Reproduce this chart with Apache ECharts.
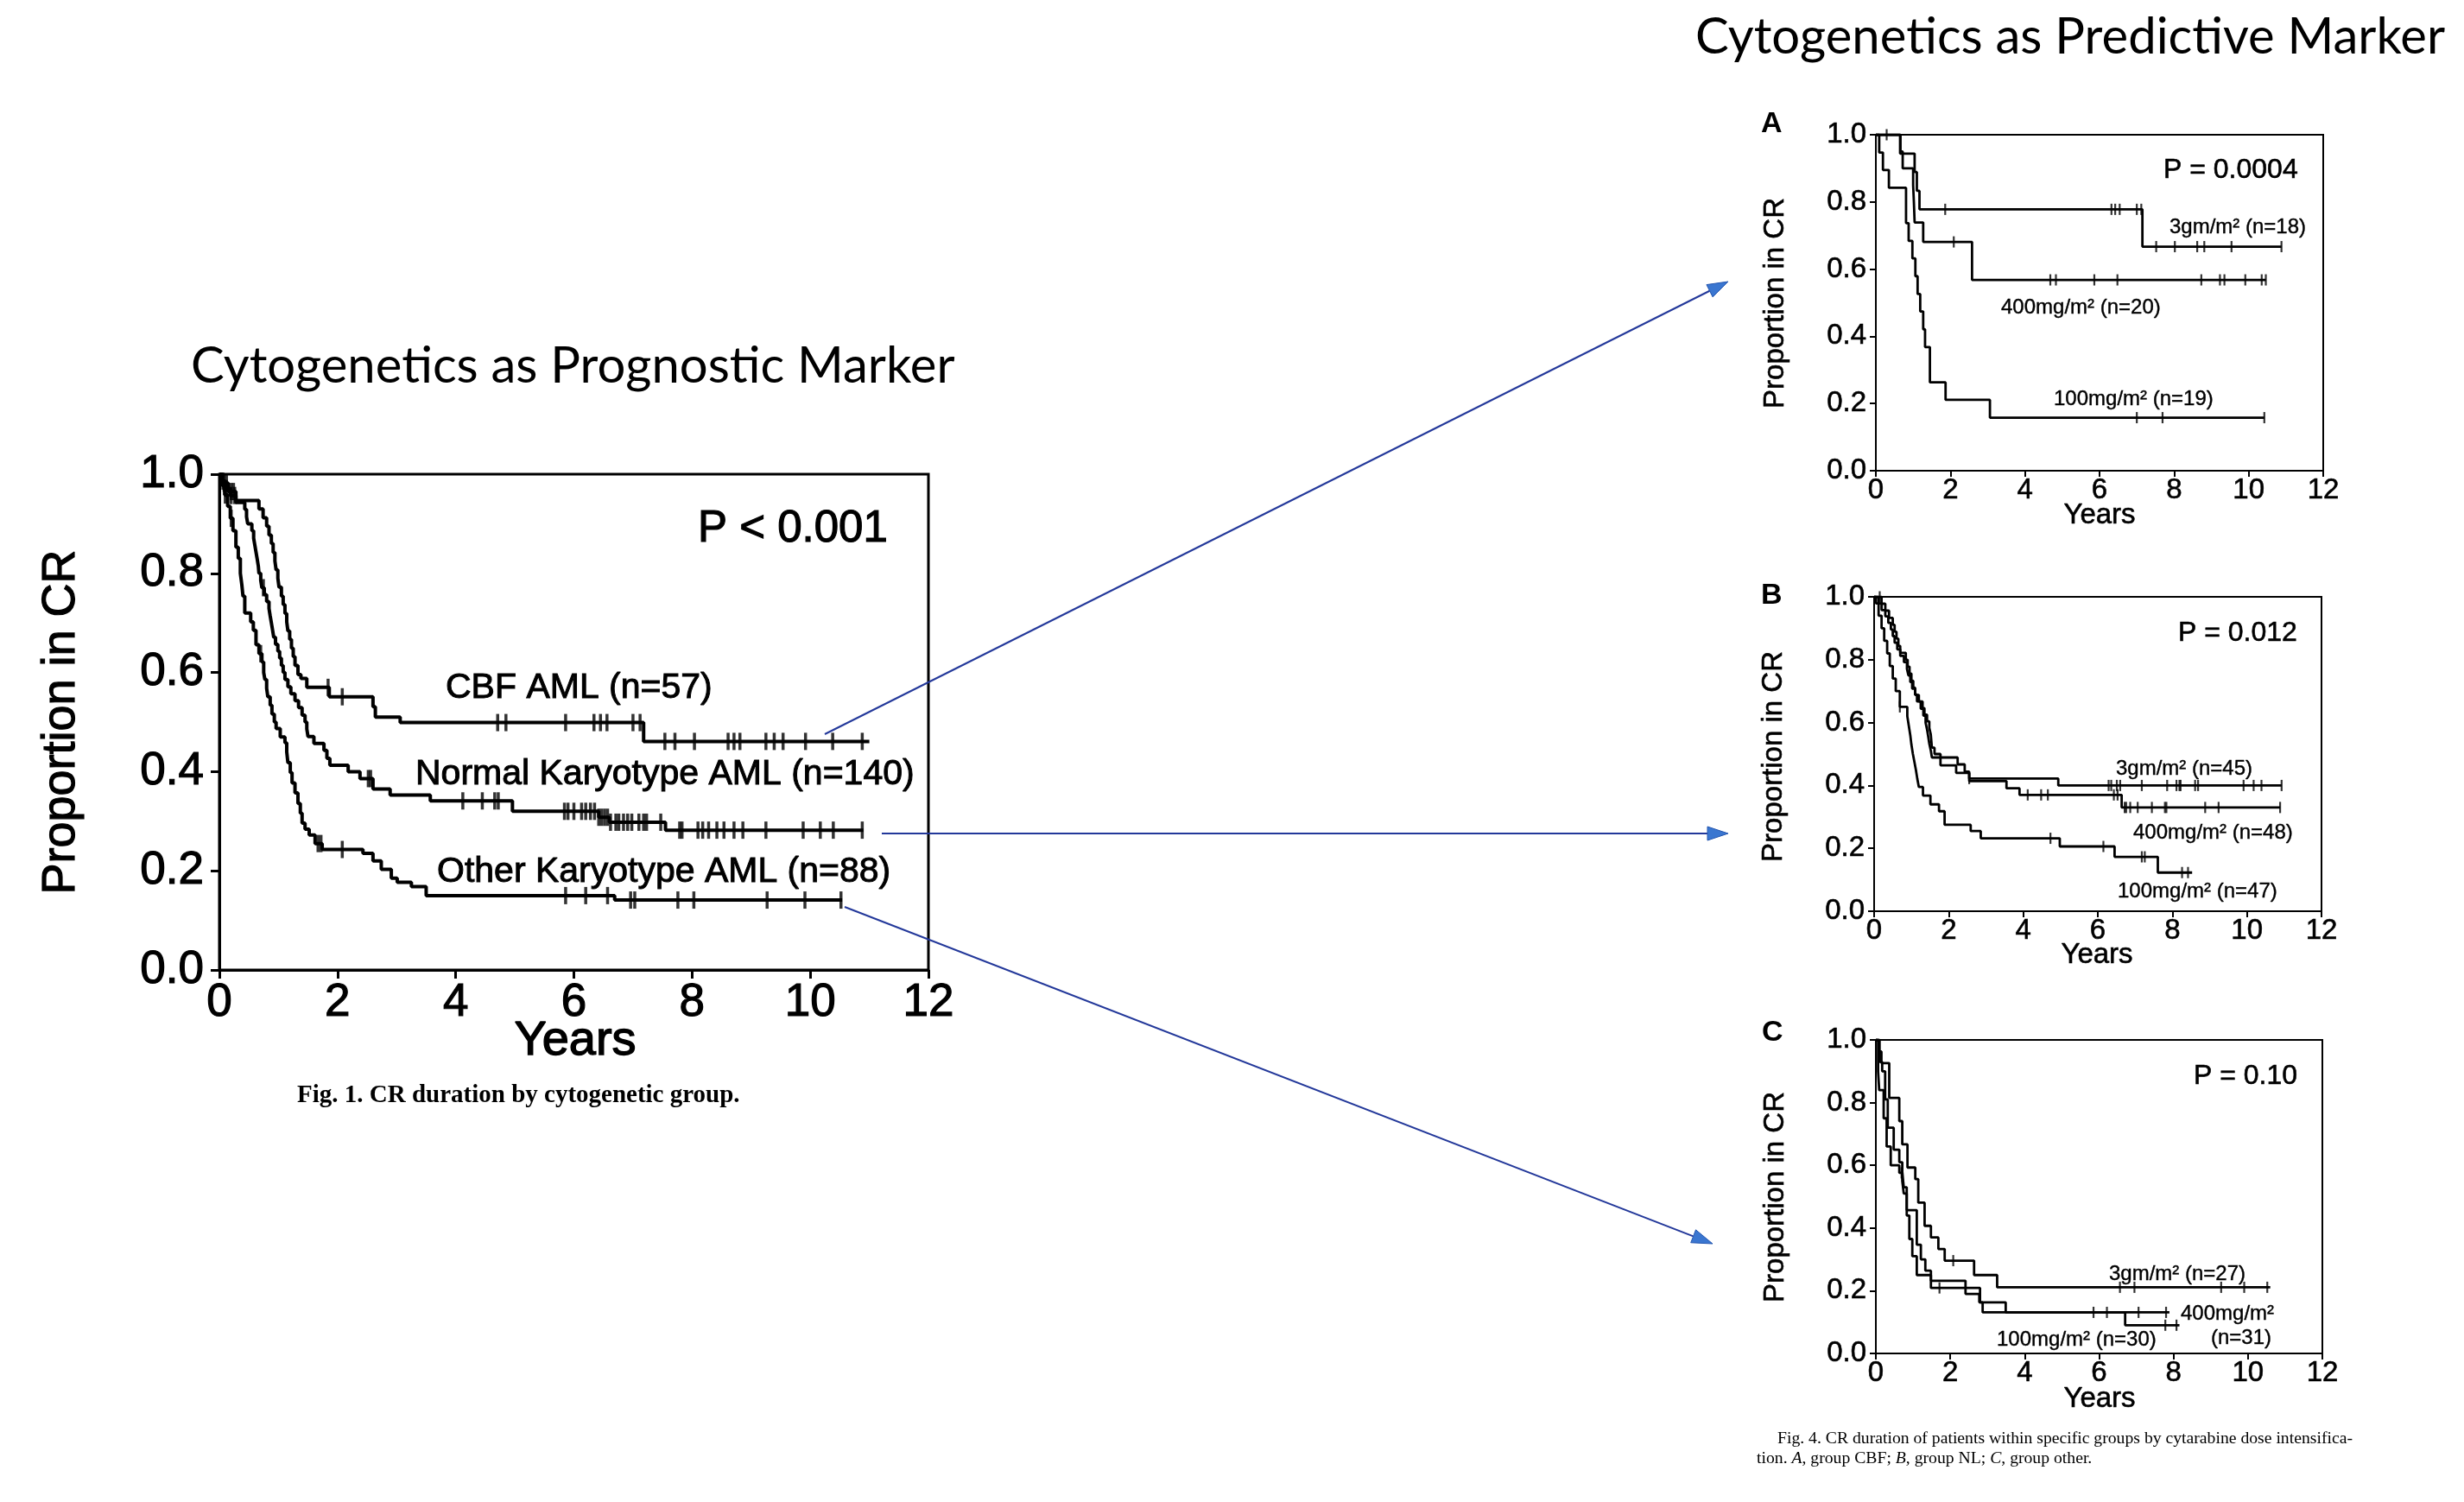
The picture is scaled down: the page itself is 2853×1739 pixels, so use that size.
<!DOCTYPE html>
<html lang="en">
<head>
<meta charset="UTF-8">
<title>Cytogenetics as Prognostic and Predictive Marker</title>
<script src="https://cdn.jsdelivr.net/npm/echarts@6/dist/echarts.min.js"></script>
<style>
  html, body { margin: 0; background: #fff; }
  #chart { width: 2853px; height: 1739px; }
</style>
</head>
<body>
<div id="chart"></div>
<script>
// ---- Fig. 1 : CR duration by cytogenetic group (years, proportion in CR) ----
const cbfSteps = [[0,1],[0.05,0.982],[0.15,0.965],[0.28,0.947],[0.67,0.93],[0.74,0.912],[0.80,0.895],[0.84,0.877],[0.88,0.86],[0.91,0.842],[0.94,0.825],[0.96,0.807],[0.99,0.79],[1.01,0.772],[1.05,0.754],[1.08,0.737],[1.11,0.719],[1.14,0.702],[1.16,0.684],[1.19,0.667],[1.22,0.649],[1.25,0.632],[1.28,0.614],[1.33,0.596],[1.38,0.588],[1.48,0.570],[1.86,0.551],[2.60,0.531],[2.64,0.510],[3.06,0.499],[7.18,0.461],[11.0,0.461]];
const cbfCensor = [0.08,0.12,0.2,0.24,1.84,2.08,4.71,4.85,5.86,6.34,6.45,6.56,7.0,7.12,7.54,7.71,8.04,8.61,8.71,8.81,9.25,9.39,9.54,9.92,10.38,10.88];

const normalSteps = [[0,1],[0.04,0.986],[0.1,0.971],[0.18,0.957],[0.28,0.943],[0.43,0.929],[0.46,0.914],[0.48,0.90],[0.55,0.886],[0.58,0.871],[0.60,0.857],[0.62,0.843],[0.64,0.829],[0.66,0.814],[0.67,0.80],[0.70,0.786],[0.72,0.771],[0.76,0.757],[0.80,0.743],[0.84,0.729],[0.86,0.714],[0.88,0.70],[0.90,0.686],[0.92,0.671],[0.95,0.657],[0.99,0.643],[1.02,0.629],[1.05,0.614],[1.08,0.60],[1.11,0.586],[1.16,0.571],[1.21,0.557],[1.28,0.543],[1.34,0.529],[1.40,0.514],[1.45,0.50],[1.48,0.486],[1.50,0.471],[1.60,0.457],[1.77,0.443],[1.82,0.427],[1.87,0.413],[2.18,0.40],[2.38,0.386],[2.60,0.365],[2.89,0.353],[3.57,0.341],[4.96,0.32],[6.42,0.308],[6.6,0.298],[7.55,0.282],[10.9,0.282]];
const normalCensor = [0.06,0.12,0.2,0.26,0.745,2.52,2.56,4.12,4.45,4.66,4.72,5.84,5.9,6.0,6.13,6.2,6.28,6.35,6.42,6.47,6.52,6.57,6.62,6.71,6.76,6.84,6.91,6.98,7.10,7.18,7.23,7.47,7.79,7.83,8.10,8.18,8.28,8.42,8.54,8.71,8.86,9.25,9.88,10.17,10.39,10.88];

const otherSteps = [[0,1],[0.05,0.977],[0.09,0.958],[0.14,0.935],[0.185,0.911],[0.23,0.886],[0.28,0.853],[0.32,0.83],[0.355,0.80],[0.38,0.777],[0.40,0.754],[0.43,0.72],[0.53,0.702],[0.575,0.685],[0.62,0.656],[0.67,0.638],[0.72,0.621],[0.75,0.60],[0.77,0.586],[0.80,0.568],[0.82,0.551],[0.86,0.534],[0.89,0.516],[0.93,0.50],[0.96,0.487],[1.03,0.47],[1.11,0.458],[1.14,0.44],[1.16,0.418],[1.2,0.398],[1.23,0.377],[1.28,0.357],[1.33,0.336],[1.37,0.316],[1.40,0.296],[1.45,0.284],[1.52,0.272],[1.62,0.255],[1.74,0.243],[2.43,0.235],[2.60,0.22],[2.74,0.203],[2.91,0.185],[3.01,0.177],[3.25,0.168],[3.50,0.150],[6.69,0.141],[10.54,0.141]];
const otherCensor = [0.1,0.2,0.70,1.67,1.72,2.08,5.86,6.20,6.57,6.96,7.03,7.76,8.03,9.27,9.91,10.52];

// ---- Fig. 4 A : group CBF by cytarabine dose ----
const a3gSteps = [[0,1],[0.65,0.944],[1.04,0.889],[1.10,0.833],[1.17,0.778],[7.15,0.667],[10.88,0.667]];
const a3gCensor = [0.29,1.86,6.32,6.42,6.54,7.0,7.12,7.52,8.02,8.62,8.81,9.54,10.88];
const a400Steps = [[0,1],[0.66,0.95],[0.72,0.90],[1.0,0.85],[1.02,0.80],[1.04,0.739],[1.27,0.681],[2.58,0.568],[10.46,0.568]];
const a400Censor = [2.09,4.68,4.83,5.86,6.48,8.73,9.23,9.35,9.91,10.35,10.46];
const a100Steps = [[0,1],[0.09,0.947],[0.19,0.895],[0.35,0.842],[0.81,0.737],[0.88,0.684],[0.98,0.632],[1.06,0.579],[1.12,0.526],[1.19,0.474],[1.27,0.421],[1.32,0.368],[1.45,0.263],[1.87,0.211],[3.06,0.158],[10.42,0.158]];
const a100Censor = [7.0,7.69,10.42];

// ---- Fig. 4 B : group NL ----
const b3gSteps = [[0,1],[0.2,0.978],[0.3,0.956],[0.4,0.933],[0.5,0.911],[0.55,0.889],[0.6,0.867],[0.65,0.844],[0.7,0.822],[0.85,0.80],[0.9,0.778],[0.95,0.756],[1.0,0.733],[1.05,0.711],[1.1,0.689],[1.15,0.667],[1.25,0.644],[1.32,0.622],[1.38,0.60],[1.42,0.578],[1.45,0.556],[1.48,0.533],[1.52,0.511],[1.55,0.489],[2.24,0.467],[2.43,0.444],[2.55,0.422],[4.94,0.40],[10.93,0.40]];
const b3gCensor = [0.15,2.55,6.29,6.36,6.51,6.6,7.18,7.86,8.11,8.19,8.22,8.61,8.69,9.91,10.18,10.39,10.93];
const b400Steps = [[0,1],[0.12,0.979],[0.2,0.958],[0.3,0.938],[0.38,0.917],[0.45,0.896],[0.5,0.875],[0.55,0.854],[0.62,0.833],[0.7,0.812],[0.8,0.792],[0.88,0.771],[0.92,0.75],[0.97,0.729],[1.02,0.708],[1.1,0.688],[1.2,0.667],[1.3,0.646],[1.35,0.625],[1.42,0.604],[1.48,0.583],[1.52,0.562],[1.55,0.52],[1.62,0.50],[1.78,0.464],[2.2,0.44],[2.55,0.414],[3.55,0.391],[3.9,0.37],[6.64,0.33],[10.89,0.33]];
const b400Censor = [4.12,4.48,4.66,6.43,6.53,6.72,6.76,6.87,7.07,7.45,7.80,7.84,8.88,9.24,10.89];
const b100Steps = [[0,1],[0.05,0.979],[0.12,0.94],[0.2,0.90],[0.27,0.86],[0.35,0.82],[0.42,0.78],[0.5,0.74],[0.58,0.70],[0.69,0.65],[0.89,0.62],[0.93,0.59],[0.97,0.56],[1.0,0.53],[1.04,0.50],[1.08,0.475],[1.12,0.45],[1.16,0.42],[1.20,0.395],[1.31,0.368],[1.51,0.34],[1.74,0.318],[1.89,0.275],[2.59,0.255],[2.86,0.232],[4.98,0.206],[6.45,0.173],[7.61,0.123],[8.53,0.123]];
const b100Censor = [0.69,4.73,6.15,7.18,7.26,8.26,8.42];

// ---- Fig. 4 C : group other ----
const c3gSteps = [[0,1],[0.08,0.963],[0.15,0.926],[0.36,0.815],[0.63,0.741],[0.71,0.667],[0.85,0.593],[1.06,0.556],[1.14,0.481],[1.31,0.407],[1.48,0.37],[1.68,0.333],[1.85,0.296],[2.64,0.25],[3.26,0.211],[10.6,0.211]];
const c3gCensor = [2.08,6.56,6.95,9.28,9.9,10.52];
const c400Steps = [[0,1],[0.06,0.90],[0.09,0.84],[0.21,0.75],[0.29,0.66],[0.40,0.60],[0.63,0.576],[0.71,0.55],[0.75,0.51],[0.83,0.457],[1.10,0.347],[1.21,0.30],[1.33,0.264],[1.48,0.232],[2.41,0.19],[2.78,0.163],[2.87,0.131],[7.89,0.131]];
const c400Censor = [0.69,5.85,6.21,7.06,7.8];
const c100Steps = [[0,1],[0.1,0.93],[0.17,0.90],[0.25,0.81],[0.32,0.72],[0.48,0.65],[0.63,0.61],[0.71,0.58],[0.75,0.53],[0.83,0.44],[0.90,0.365],[0.98,0.31],[1.10,0.25],[1.48,0.209],[2.80,0.163],[3.49,0.131],[6.70,0.09],[8.16,0.09]];
const c100Censor = [1.71,7.78,8.08];

const yearMax = 12, yearStep = 2;
const propMax = 1, propStep = 0.2;

// ------------------------------------------------------------------
const FONT = '"Liberation Sans", Arial, Helvetica, sans-serif';
const SERIF = '"Liberation Serif", "Times New Roman", serif';
const TITLE_FONT = 'Lato, "Open Sans", sans-serif';

let chart = echarts.init(document.getElementById('chart'));

// proportion in CR at time t (Kaplan-Meier step function)
function survAt(steps, t) {
    let s = steps[0][1];
    for (const [tt, ss] of steps) {
        if (tt <= t) s = ss;
    }
    return s;
}

// 0 = Fig.1, 1..3 = panels A, B, C
const grids = [
    { left: 254, top: 549, width: 821, height: 574 },
    { left: 2172, top: 156, width: 518, height: 389 },
    { left: 2170, top: 691, width: 518, height: 364 },
    { left: 2172, top: 1204, width: 517, height: 363 }
];
const panels = [
    [[cbfSteps, cbfCensor], [normalSteps, normalCensor], [otherSteps, otherCensor]],
    [[a3gSteps, a3gCensor], [a400Steps, a400Censor], [a100Steps, a100Censor]],
    [[b3gSteps, b3gCensor], [b400Steps, b400Censor], [b100Steps, b100Censor]],
    [[c3gSteps, c3gCensor], [c400Steps, c400Censor], [c100Steps, c100Censor]]
];

const xAxes = [], yAxes = [], series = [];
grids.forEach((g, i) => {
    const big = i === 0;
    const lw = big ? 3 : 2;
    const label = {
        color: '#000', fontFamily: FONT, fontSize: big ? 53 : 33,
        textBorderColor: '#000', textBorderWidth: big ? 1.2 : 0.6
    };
    xAxes.push({
        type: 'value', gridIndex: i, min: 0, max: yearMax, interval: yearStep,
        axisLine: { lineStyle: { color: '#000', width: lw } },
        axisTick: { length: big ? 10 : 7, lineStyle: { color: '#000', width: lw } },
        axisLabel: Object.assign({ margin: big ? 12 : 6 }, label),
        splitLine: { show: false }
    });
    yAxes.push({
        type: 'value', gridIndex: i, min: 0, max: propMax, interval: propStep,
        axisLine: { lineStyle: { color: '#000', width: lw } },
        axisTick: { length: big ? 10 : 7, lineStyle: { color: '#000', width: lw } },
        axisLabel: Object.assign({ margin: big ? 18 : 11, formatter: v => v.toFixed(1) }, label),
        splitLine: { show: false }
    });
    panels[i].forEach(([steps, censor]) => {
        series.push({
            type: 'line', xAxisIndex: i, yAxisIndex: i, data: steps, step: 'end',
            symbol: 'none', silent: true,
            lineStyle: { color: '#000', width: big ? 4 : 2.8 }
        });
        series.push({
            type: 'scatter', xAxisIndex: i, yAxisIndex: i, silent: true,
            data: censor.map(t => [t, survAt(steps, t)]),
            symbol: 'rect', symbolSize: big ? [3.5, 20] : [2.2, 13],
            itemStyle: { color: '#000' }
        });
    });
});

function txt(text, x, y, size, extra) {
    return {
        type: 'text', x: x, y: y, z: 10, silent: true,
        style: Object.assign({ text: text, fill: '#000', fontSize: size, fontFamily: FONT,
                               align: 'left', verticalAlign: 'middle' }, extra || {})
    };
}
// slightly heavier strokes, like the scanned figure lettering
function btxt(text, x, y, size, w, extra) {
    return txt(text, x, y, size, Object.assign({ stroke: '#000', lineWidth: w }, extra || {}));
}
function vtxt(text, x, y, size, w) {
    let t = btxt(text, x, y, size, w, { align: 'center' });
    t.rotation = Math.PI / 2;
    return t;
}

// blue pointer arrows from Fig. 1 curves to the panels
function arrow(x1, y1, x2, y2) {
    const ang = Math.atan2(y2 - y1, x2 - x1);
    const len = 24, half = 8;
    const bx = x2 - len * Math.cos(ang), by = y2 - len * Math.sin(ang);
    const nx = -Math.sin(ang) * half, ny = Math.cos(ang) * half;
    return [
        { type: 'line', silent: true, shape: { x1: x1, y1: y1, x2: bx, y2: by },
          style: { stroke: '#23389a', lineWidth: 2 } },
        { type: 'polygon', silent: true,
          shape: { points: [[x2, y2], [bx + nx, by + ny], [bx - nx, by - ny]] },
          style: { fill: '#3a76d0', stroke: '#2456b0', lineWidth: 1 } }
    ];
}

const m2 = 'm\u00B2';
const graphics = [
    txt('Cytogenetics as Prognostic Marker', 221, 424, 58, { fontFamily: TITLE_FONT }),
    txt('Cytogenetics as Predictive Marker', 1963, 43, 58, { fontFamily: TITLE_FONT }),

    vtxt('Proportion in CR', 71, 836, 54, 1.2),
    btxt('Years', 666, 1206, 56, 1.4, { align: 'center' }),
    btxt('P < 0.001', 808, 613, 51, 1.2),
    btxt('CBF AML (n=57)', 516, 797, 41, 1),
    btxt('Normal Karyotype AML (n=140)', 481, 897, 41, 1),
    btxt('Other Karyotype AML (n=88)', 506, 1010, 41, 1),
    txt('Fig. 1. CR duration by cytogenetic group.', 344, 1269, 29, { fontFamily: SERIF, fontWeight: 'bold' }),

    txt('A', 2039, 144, 34, { fontWeight: 'bold' }),
    vtxt('Proportion in CR', 2056, 351, 33, 0.6),
    btxt('Years', 2431, 597, 33, 0.6, { align: 'center' }),
    btxt('P = 0.0004', 2505, 197, 32, 0.6),
    btxt('3gm/' + m2 + ' (n=18)', 2512, 263, 24, 0.4),
    btxt('400mg/' + m2 + ' (n=20)', 2317, 356, 24, 0.4),
    btxt('100mg/' + m2 + ' (n=19)', 2378, 462, 24, 0.4),

    txt('B', 2039, 690, 34, { fontWeight: 'bold' }),
    vtxt('Proportion in CR', 2054, 876, 33, 0.6),
    btxt('Years', 2428, 1106, 33, 0.6, { align: 'center' }),
    btxt('P = 0.012', 2522, 733, 32, 0.6),
    btxt('3gm/' + m2 + ' (n=45)', 2450, 890, 24, 0.4),
    btxt('400mg/' + m2 + ' (n=48)', 2470, 964, 24, 0.4),
    btxt('100mg/' + m2 + ' (n=47)', 2452, 1032, 24, 0.4),

    txt('C', 2040, 1196, 34, { fontWeight: 'bold' }),
    vtxt('Proportion in CR', 2056, 1386, 33, 0.6),
    btxt('Years', 2431, 1620, 33, 0.6, { align: 'center' }),
    btxt('P = 0.10', 2540, 1246, 32, 0.6),
    btxt('3gm/' + m2 + ' (n=27)', 2442, 1475, 24, 0.4),
    btxt('400mg/' + m2, 2525, 1521, 24, 0.4),
    btxt('(n=31)', 2560, 1549, 24, 0.4),
    btxt('100mg/' + m2 + ' (n=30)', 2312, 1551, 24, 0.4),

    txt('Fig. 4. CR duration of patients within specific groups by cytarabine dose intensifica-',
        2058, 1666, 19.7, { fontFamily: SERIF }),
    txt('{n|tion. }{i|A}{n|, group CBF; }{i|B}{n|, group NL; }{i|C}{n|, group other.}', 2034, 1689, 19.7, {
        fontFamily: SERIF,
        rich: {
            n: { fontFamily: SERIF, fontSize: 19.7, fill: '#000' },
            i: { fontFamily: SERIF, fontSize: 19.7, fill: '#000', fontStyle: 'italic' }
        }
    })
].concat(
    arrow(955, 850, 2001, 326),
    arrow(1021, 965, 2001, 965),
    arrow(978, 1050, 1983, 1440)
);

let option = {
    backgroundColor: '#fff',
    animation: false,
    grid: grids.map(g => Object.assign({ show: true, borderColor: '#000', borderWidth: 2,
                                         backgroundColor: 'transparent' }, g)),
    xAxis: xAxes,
    yAxis: yAxes,
    series: series,
    graphic: graphics
};
option.grid[0].borderWidth = 3;

chart.setOption(option);
</script>
</body>
</html>
